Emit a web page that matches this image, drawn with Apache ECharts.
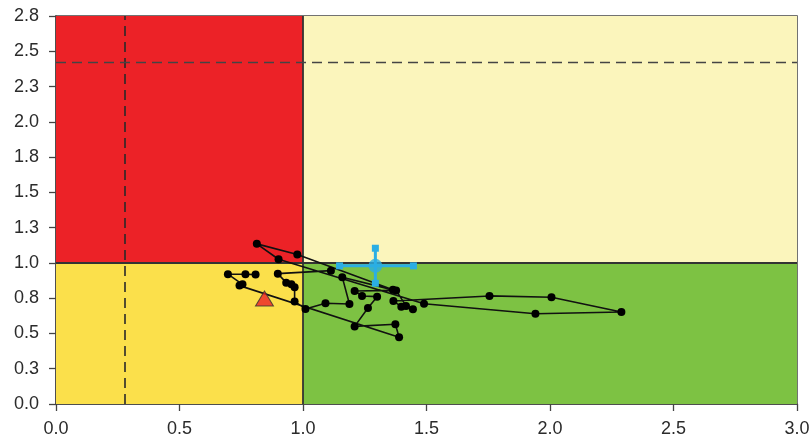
<!DOCTYPE html>
<html>
<head>
<meta charset="utf-8">
<script src="https://cdn.jsdelivr.net/npm/echarts@6/dist/echarts.min.js"></script>
<style>
  html, body { margin: 0; padding: 0; background: #fff; }
  #chart { width: 811px; height: 437px; }
</style>
</head>
<body>
<div id="chart"></div>
<script>
// Stock status trajectory: B/Bmsy (x) against F/Fmsy (y)
const bRatio = [0.808, 0.767, 0.696, 0.755, 0.743, 1.389, 1.374, 1.209, 1.263, 1.300,
                1.239, 1.209, 1.377, 1.417, 1.445, 1.398, 1.366, 1.755, 2.006, 2.289,
                1.941, 1.490, 0.901, 0.813, 0.977, 1.364, 1.159, 1.188, 1.091, 1.010,
                0.966, 0.966, 0.953, 0.932, 0.898, 1.113];
const fRatio = [0.917, 0.920, 0.920, 0.848, 0.839, 0.473, 0.565, 0.550, 0.681, 0.761,
                0.766, 0.801, 0.805, 0.695, 0.672, 0.690, 0.730, 0.766, 0.757, 0.652,
                0.640, 0.711, 1.026, 1.135, 1.059, 0.809, 0.899, 0.709, 0.714, 0.674,
                0.727, 0.828, 0.848, 0.860, 0.924, 0.945];

// Current estimate with uncertainty ranges
const current = { b: 1.293, f: 0.979, bLow: 1.148, bHigh: 1.447, fLow: 0.856, fHigh: 1.104 };
// Terminal-year marker
const terminal = [0.844, 0.748];

// Reference levels
const bTarget = 1.0, fTarget = 1.0;
const bLimit = 0.281;
const fLimit = 2.415;

// Axis ranges and tick labels
const xMax = 3.0, yMax = 2.75;
const xTickLabels = ['0.0', '0.5', '1.0', '1.5', '2.0', '2.5', '3.0'];
const yTickLabels = ['0.0', '0.3', '0.5', '0.8', '1.0', '1.3', '1.5', '1.8', '2.0', '2.3', '2.5', '2.8'];

const RED = '#EC2227', PALE = '#FBF5BC', YELLOW = '#FBE04B', GREEN = '#7DC243';
const BLUE = '#2BAEE4';
const textStyle = { color: '#2b2b2b', fontSize: 18, fontFamily: 'Liberation Sans, Arial, sans-serif' };

const chart = echarts.init(document.getElementById('chart'), null, { renderer: 'canvas' });

const quadrants = [
  [{ coord: [0, fTarget], itemStyle: { color: RED } }, { coord: [bTarget, yMax] }],
  [{ coord: [bTarget, fTarget], itemStyle: { color: PALE } }, { coord: [xMax, yMax] }],
  [{ coord: [0, 0], itemStyle: { color: YELLOW } }, { coord: [bTarget, fTarget] }],
  [{ coord: [bTarget, 0], itemStyle: { color: GREEN } }, { coord: [xMax, fTarget] }]
];

const barEnd = { symbol: 'rect', symbolSize: 7, itemStyle: { color: BLUE } };

chart.setOption({
  animation: false,
  grid: {
    left: 56, right: 14, top: 16, bottom: 33, outerBoundsMode: 'none', containLabel: false,
    show: true, borderColor: '#444', borderWidth: 1.5, backgroundColor: 'transparent'
  },
  xAxis: {
    type: 'value', min: 0, max: xMax, interval: 0.5,
    axisLine: { show: true, lineStyle: { color: '#444', width: 1.5 } },
    axisTick: { show: true, length: 7, lineStyle: { color: '#444', width: 1.3 } },
    splitLine: { show: false },
    axisLabel: { ...textStyle, margin: 16, formatter: v => xTickLabels[Math.round(v / 0.5)] }
  },
  yAxis: {
    type: 'value', min: 0, max: yMax, interval: 0.25,
    axisLine: { show: true, lineStyle: { color: '#444', width: 1.5 } },
    axisTick: { show: true, length: 7, lineStyle: { color: '#444', width: 1.3 } },
    splitLine: { show: false },
    axisLabel: { ...textStyle, margin: 17, formatter: v => yTickLabels[Math.round(v / 0.25)] }
  },
  series: [
    {
      type: 'line', data: [], silent: true,
      markArea: { silent: true, data: quadrants },
      markLine: {
        silent: true, symbol: 'none', label: { show: false },
        data: [
          { xAxis: bTarget, lineStyle: { type: 'solid', color: '#333', width: 1.8 } },
          { yAxis: fTarget, lineStyle: { type: 'solid', color: '#333', width: 1.8 } },
          { xAxis: bLimit, lineStyle: { type: [10, 6], color: '#2a2a2a', width: 1.6 } },
          { yAxis: fLimit, lineStyle: { type: [10, 6], color: '#444', width: 1.3 } }
        ]
      }
    },
    {
      type: 'line', z: 5,
      data: bRatio.map((b, i) => [b, fRatio[i]]),
      symbol: 'circle', symbolSize: 8,
      lineStyle: { color: '#111', width: 1.6 },
      itemStyle: { color: '#000' }
    },
    {
      type: 'line', z: 6, ...barEnd,
      data: [[current.bLow, current.f], [current.bHigh, current.f]],
      lineStyle: { color: BLUE, width: 3 }
    },
    {
      type: 'line', z: 6, ...barEnd,
      data: [[current.b, current.fLow], [current.b, current.fHigh]],
      lineStyle: { color: BLUE, width: 3 }
    },
    {
      type: 'scatter', z: 7,
      data: [[current.b, current.f]],
      symbol: 'circle', symbolSize: 14,
      itemStyle: { color: BLUE }
    },
    {
      type: 'scatter', z: 8,
      data: [terminal],
      symbol: 'triangle', symbolSize: [18, 15],
      itemStyle: { color: RED, borderColor: '#333', borderWidth: 1 }
    }
  ]
});
</script>
</body>
</html>
